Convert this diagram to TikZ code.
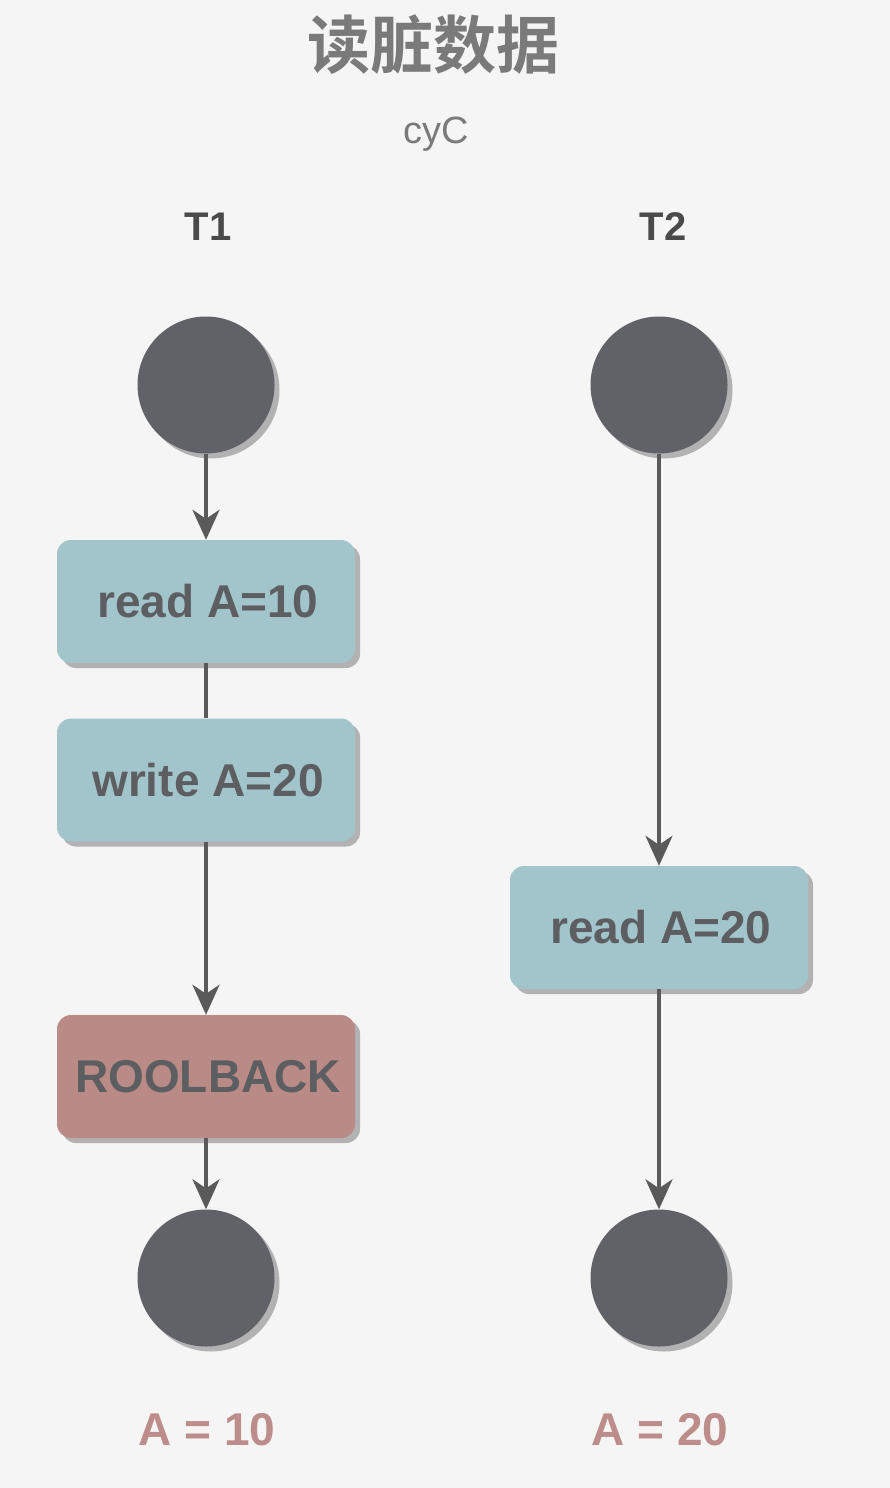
\documentclass[tikz,border=0pt]{standalone}
\usepackage{fontspec}
\setmainfont{Liberation Sans}
\newfontfamily\cjkb{Noto Sans CJK SC Bold}
\usetikzlibrary{arrows.meta,shadows}
\definecolor{bgc}{HTML}{F5F5F5}
\definecolor{circc}{HTML}{616267}
\definecolor{boxc}{HTML}{A2C4CB}
\definecolor{rbc}{HTML}{BA8A87}
\definecolor{txtc}{HTML}{5D5E61}
\definecolor{linec}{HTML}{5A5A5A}
\definecolor{titlec}{HTML}{7A7A7A}
\definecolor{lblc}{HTML}{4A4A4A}
\definecolor{resc}{HTML}{BC8D8A}
\tikzset{
  shd/.style={drop shadow={shadow xshift=5pt, shadow yshift=-5pt, fill=black!30, opacity=1}},
  dot/.style={circle, fill=circc, minimum size=137pt, inner sep=0pt, shd},
  opbox/.style={rectangle, rounded corners=14pt, fill=boxc, minimum width=298pt, minimum height=123pt, inner sep=0pt, text=txtc, font=\fontsize{46}{50}\selectfont\bfseries, shd},
  rbbox/.style={opbox, fill=rbc},
  conn/.style={draw=linec, line width=3.5pt},
  arr/.style={conn, -{Stealth[length=30pt,width=27pt,inset=9pt]}},
}
\begin{document}
\begin{tikzpicture}[x=1pt,y=-1pt]
\fill[bgc] (0,0) rectangle (890,1488);
\useasboundingbox (0,0) rectangle (890,1488);
\node[text=titlec, font=\cjkb\fontsize{63}{66}\selectfont] (title) at (433,45) {读脏数据};
\node[text=titlec, font=\fontsize{38}{42}\selectfont] (sub) at (436,134) {cyC};
\node[text=lblc, font=\fontsize{40}{44}\selectfont\bfseries] (t1) at (208,227) {T1};
\node[text=lblc, font=\fontsize{40}{44}\selectfont\bfseries] (t2) at (663,227) {T2};
\node[dot] (s1) at (206,385) {};
\node[dot] (s2) at (659,385) {};
\node[opbox] (r1) at (206,601.5) {\hspace*{4pt}read A=10};
\node[opbox] (w1) at (206,780) {\hspace*{4pt}write A=20};
\node[rbbox] (rb) at (206,1076.5) {\hspace*{4pt}ROOLBACK};
\node[opbox] (r2) at (659,927.5) {\hspace*{4pt}read A=20};
\node[dot] (e1) at (206,1278) {};
\node[dot] (e2) at (659,1278) {};
\node[text=resc, font=\fontsize{46}{50}\selectfont\bfseries] (v1) at (207,1430) {A = 10};
\node[text=resc, font=\fontsize{46}{50}\selectfont\bfseries] (v2) at (660,1430) {A = 20};
\draw[arr] (s1) -- (r1);
\draw[conn] (r1) -- (w1);
\draw[arr] (w1) -- (rb);
\draw[arr] (rb) -- (e1);
\draw[arr] (s2) -- (r2);
\draw[arr] (r2) -- (e2);
\end{tikzpicture}
\end{document}
